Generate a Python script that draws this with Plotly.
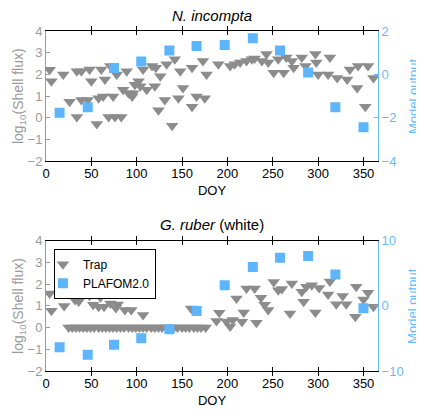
import plotly.graph_objects as go

# ---------------- data ----------------
# N. incompta, trap (DOY, log10 shell flux)
inc_trap_doy = [4, 6, 19, 26, 34, 34, 39, 39, 46, 48, 50, 56, 58, 61, 63, 65, 69, 71, 74, 76,
                78, 83, 85, 89, 91, 95, 96, 98, 102, 104, 107, 111, 117, 120, 121, 124, 126, 131,
                133, 139, 142, 146, 148, 151, 161, 161, 166, 173, 175, 177, 190, 203, 208, 214,
                221, 227, 230, 238, 243, 245, 251, 256, 262, 265, 271, 273, 282, 286, 297, 298,
                300, 311, 313, 321, 332, 335, 343, 344, 352, 355, 361]
inc_trap_val = [2.22, 1.68, 2.0, 0.74, 0.04, 2.15, 2.15, 0.82, 0.82, 2.23, 1.68, -0.28, 0.9, 2.23,
                0.98, 1.76, 0.04, 2.39, 0.98, 0.04, 2.0, 0.04, 1.29, 2.15, 1.13, 0.98, 1.13, 1.52,
                1.68, 1.45, 2.23, 1.29, 2.39, 1.45, 2.31, 0.35, 1.92, 0.82, 2.47, -0.36, 2.7, 0.9,
                2.15, 1.37, 0.51, 2.31, 0.98, 2.62, 0.9, 2.0, 2.47, 2.39, 2.47, 2.55, 2.62, 2.7,
                2.73, 2.62, 2.94, 2.55, 2.08, 2.7, 2.08, 2.78, 2.62, 2.31, 2.78, 2.39, 2.94, 2.55,
                2.0, 2.0, 2.78, 1.84, 1.76, 2.23, 1.37, 2.39, 0.51, 2.39, 1.84]
# N. incompta, PLAFOM2.0 model output
inc_model_doy = [15, 46, 75, 105, 136, 166, 197, 228, 258, 289, 319, 350]
inc_model_val = [-1.77, -1.51, 0.29, 0.6, 1.1, 1.31, 1.36, 1.67, 1.1, 0.09, -1.51, -2.43]

# G. ruber (white), trap
rub_trap_doy = [4, 6, 20, 25, 29, 32, 33, 36, 37, 41, 45, 48, 49, 52, 53, 58, 58, 60, 62, 64,
                66, 70, 71, 74, 77, 78, 79, 82, 86, 87, 91, 94, 95, 99, 103, 107, 107, 111, 116,
                120, 124, 128, 133, 137, 141, 145, 150, 154, 158, 160, 163, 165, 167, 171, 176,
                188, 191, 199, 203, 206, 210, 216, 218, 221, 230, 232, 237, 241, 245, 251, 256,
                260, 269, 271, 282, 284, 287, 293, 297, 301, 311, 313, 320, 327, 331, 341, 342,
                350, 355, 361]
rub_trap_val = [1.57, 0.78, 1.0, 0.0, 0.0, 1.27, 0.0, 1.2, 0.0, 0.0, 0.0, 1.47, 0.0, 1.05, 0.0,
                0.96, 0.0, 1.4, 0.0, 0.96, 0.0, 0.0, 1.11, 0.0, 0.9, 0.0, 1.06, 0.0, 0.0, 0.81,
                0.0, 0.81, 0.0, 0.0, 0.0, 0.58, 0.0, 0.0, 0.0, 0.0, 0.0, 0.0, 0.0, 0.0, 0.0, 0.0,
                0.0, 0.0, 0.0, 0.88, 0.0, 0.85, 0.0, 0.0, 0.0, 0.3, 0.68, 0.28, 0.05, 0.35, 1.34,
                0.27, 0.7, 1.8, 1.8, 0.22, 1.38, 1.05, 0.81, 2.1, 1.72, 1.78, 0.65, 2.03, 1.65,
                1.19, 1.88, 1.95, 0.7, 1.82, 1.52, 2.12, 1.07, 1.46, 1.07, 0.5, 1.88, 1.3, 1.6,
                0.96]
# G. ruber (white), PLAFOM2.0 model output
rub_model_doy = [15, 46, 75, 105, 136, 166, 197, 228, 258, 289, 319, 350]
rub_model_val = [-6.34, -7.5, -5.98, -4.96, -3.6, -0.79, 3.18, 5.98, 7.4, 7.66, 4.81, -0.38]

x_ticks = [0, 50, 100, 150, 200, 250, 300, 350]
left_ticks = [-2, -1, 0, 1, 2, 3, 4]
right_ticks_top = [-4, -2, 0, 2]
right_ticks_bot = [-10, 0, 10]

# ---------------- style ----------------
GRAY = "#8C8C8C"
LGRAY = "#9A9A9A"
BLUE = "#5DB5FD"
BLUE_AX = "#66BBFF"
FONT = "Liberation Sans, Arial, Helvetica, sans-serif"

fig = go.Figure()
fig.add_trace(go.Scatter(x=inc_trap_doy, y=inc_trap_val, mode="markers", name="Trap",
                         marker=dict(symbol="triangle-down", size=11, color=GRAY),
                         xaxis="x", yaxis="y", showlegend=False))
fig.add_trace(go.Scatter(x=inc_model_doy, y=inc_model_val, mode="markers", name="PLAFOM2.0",
                         marker=dict(symbol="square", size=10, color=BLUE),
                         xaxis="x", yaxis="y2", showlegend=False))
fig.add_trace(go.Scatter(x=rub_trap_doy, y=rub_trap_val, mode="markers", name="Trap",
                         marker=dict(symbol="triangle-down", size=11, color=GRAY),
                         xaxis="x2", yaxis="y3"))
fig.add_trace(go.Scatter(x=rub_model_doy, y=rub_model_val, mode="markers", name="PLAFOM2.0",
                         marker=dict(symbol="square", size=10, color=BLUE),
                         xaxis="x2", yaxis="y4"))

top_dom = [1 - 131 / 342, 1]
bot_dom = [0, 131 / 342]


def xax(anchor):
    return dict(domain=[0, 1], anchor=anchor, range=[0, 366], tickvals=x_ticks,
                ticks="inside", ticklen=4, tickcolor="black", showline=True, linecolor="black",
                linewidth=1, mirror="allticks", showgrid=False, zeroline=False,
                tickfont=dict(size=13, color="black"),
                title=dict(text="DOY", font=dict(size=13, color="black"), standoff=6))


def yleft(dom, anchor):
    return dict(domain=dom, anchor=anchor, range=[-2, 4], tickvals=left_ticks, ticks="inside",
                ticklen=4, tickcolor=LGRAY, showline=True, linecolor=LGRAY, linewidth=1,
                showgrid=False, zeroline=False, tickfont=dict(size=13, color=LGRAY))


def yright(over, anchor, rng, tv):
    return dict(overlaying=over, anchor=anchor, side="right", range=rng, tickvals=tv,
                ticks="inside", ticklen=4, tickcolor=BLUE_AX, showline=True, linecolor=BLUE_AX,
                linewidth=1, showgrid=False, zeroline=False,
                tickfont=dict(size=13, color=BLUE_AX))


# the page body has an 8px margin; the figure is shrunk/shifted to compensate
fig.update_layout(
    width=416, height=410,
    margin=dict(l=38, r=46, t=23, b=45),
    paper_bgcolor="white", plot_bgcolor="white",
    font=dict(family=FONT, size=13, color="black"),
    xaxis=xax("y"),
    yaxis=yleft(top_dom, "x"),
    yaxis2=yright("y", "x", [-4, 2], right_ticks_top),
    xaxis2=xax("y3"),
    yaxis3=yleft(bot_dom, "x2"),
    yaxis4=yright("y3", "x2", [-10, 10], right_ticks_bot),
    legend=dict(x=0.024, y=0.3596, xanchor="left", yanchor="top", bgcolor="white",
                bordercolor="black", borderwidth=1, font=dict(size=12, color="black"),
                itemwidth=30, tracegroupgap=0, indentation=-12),
    annotations=[
        dict(text="<i>N. incompta</i>", x=0.5, y=(373 - 15.5) / 342, xref="paper", yref="paper",
             showarrow=False, font=dict(size=15, color="black"), xanchor="center", yanchor="middle"),
        dict(text="<i>G. ruber</i> (white)", x=0.5, y=(373 - 226) / 342, xref="paper", yref="paper",
             showarrow=False, font=dict(size=15, color="black"), xanchor="center", yanchor="middle"),
        dict(text="log<sub>10</sub>(Shell flux)", x=(19 - 46) / 332, y=(373 - 96.5) / 342,
             xref="paper", yref="paper", showarrow=False, textangle=-90,
             font=dict(size=14, color=LGRAY), xanchor="center", yanchor="middle"),
        dict(text="log<sub>10</sub>(Shell flux)", x=(19 - 46) / 332, y=(373 - 307.5) / 342,
             xref="paper", yref="paper", showarrow=False, textangle=-90,
             font=dict(size=14, color=LGRAY), xanchor="center", yanchor="middle"),
        dict(text="Model output", x=(413 - 46) / 332, y=(373 - 96.5) / 342,
             xref="paper", yref="paper", showarrow=False, textangle=-90,
             font=dict(size=13, color=BLUE_AX), xanchor="center", yanchor="middle"),
        dict(text="Model output", x=(413 - 46) / 332, y=(373 - 307.5) / 342,
             xref="paper", yref="paper", showarrow=False, textangle=-90,
             font=dict(size=13, color=BLUE_AX), xanchor="center", yanchor="middle"),
    ],
)

fig.write_html("out.html")
